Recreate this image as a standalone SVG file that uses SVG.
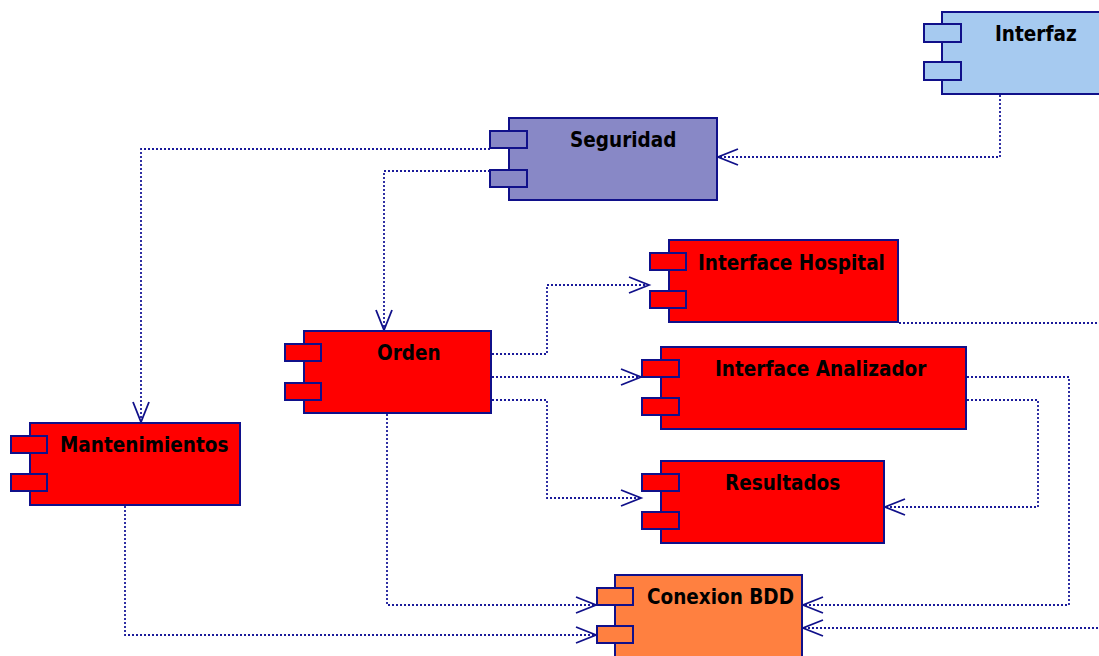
<svg xmlns="http://www.w3.org/2000/svg" width="1099" height="656" viewBox="0 0 1099 656">
  <defs>
    <style>
      .body { stroke: #10108a; stroke-width: 2; }
      .port { stroke: #10108a; stroke-width: 2; }
      .lbl { font-family: "DejaVu Sans Condensed", "DejaVu Sans", Verdana, sans-serif; font-stretch: condensed; font-weight: bold; font-size: 20.5px; fill: #000; }
      .dep { fill: none; stroke: #1a1a9a; stroke-width: 1.8; stroke-dasharray: 2 2; }
      .blue { fill: #a6caf0; }
      .violet { fill: #8888c6; }
      .red { fill: #ff0000; }
      .orange { fill: #ff8040; }
    </style>
    <marker id="open" markerUnits="userSpaceOnUse" markerWidth="24" markerHeight="20" refX="21" refY="9" orient="auto">
      <path d="M1,1 L21,9 L1,17" fill="none" stroke="#10108a" stroke-width="1.8"/>
    </marker>
  </defs>

  <!-- dependencies -->
  <g id="connectors">
    <path class="dep" d="M1000,95 V157 H718" marker-end="url(#open)"/>
    <path class="dep" d="M490,149 H141 V422" marker-end="url(#open)"/>
    <path class="dep" d="M490,171 H384 V330" marker-end="url(#open)"/>
    <path class="dep" d="M492,354 H547 V285 H649" marker-end="url(#open)"/>
    <path class="dep" d="M492,377 H641" marker-end="url(#open)"/>
    <path class="dep" d="M492,400 H547 V498 H641" marker-end="url(#open)"/>
    <path class="dep" d="M387,414 V605 H596" marker-end="url(#open)"/>
    <path class="dep" d="M125,506 V635 H596" marker-end="url(#open)"/>
    <path class="dep" d="M967,377 H1069 V605 H803" marker-end="url(#open)"/>
    <path class="dep" d="M967,400 H1038 V507 H885" marker-end="url(#open)"/>
    <path class="dep" d="M899,323 H1112 V628 H803" marker-end="url(#open)"/>
  </g>

  <g id="interfaz">
    <rect class="body blue" x="942" y="12" width="170" height="82"/>
    <rect class="port blue" x="924" y="24" width="37" height="18"/>
    <rect class="port blue" x="924" y="62" width="37" height="18"/>
    <text class="lbl" x="995" y="41">Interfaz</text>
  </g>

  <g id="seguridad">
    <rect class="body violet" x="509" y="118" width="208" height="82"/>
    <rect class="port violet" x="490" y="131" width="37" height="17"/>
    <rect class="port violet" x="490" y="170" width="37" height="17"/>
    <text class="lbl" x="570" y="147">Seguridad</text>
  </g>

  <g id="orden">
    <rect class="body red" x="304" y="331" width="187" height="82"/>
    <rect class="port red" x="285" y="344" width="36" height="17"/>
    <rect class="port red" x="285" y="383" width="36" height="17"/>
    <text class="lbl" x="377" y="360">Orden</text>
  </g>

  <g id="mantenimientos">
    <rect class="body red" x="30" y="423" width="210" height="82"/>
    <rect class="port red" x="11" y="436" width="36" height="17"/>
    <rect class="port red" x="11" y="474" width="36" height="17"/>
    <text class="lbl" x="60" y="452">Mantenimientos</text>
  </g>

  <g id="interface-hospital">
    <rect class="body red" x="669" y="240" width="229" height="82"/>
    <rect class="port red" x="650" y="253" width="36" height="17"/>
    <rect class="port red" x="650" y="291" width="36" height="17"/>
    <text class="lbl" x="698" y="270">Interface Hospital</text>
  </g>

  <g id="interface-analizador">
    <rect class="body red" x="661" y="347" width="305" height="82"/>
    <rect class="port red" x="642" y="360" width="37" height="17"/>
    <rect class="port red" x="642" y="398" width="37" height="17"/>
    <text class="lbl" x="715" y="376">Interface Analizador</text>
  </g>

  <g id="resultados">
    <rect class="body red" x="661" y="461" width="223" height="82"/>
    <rect class="port red" x="642" y="474" width="37" height="17"/>
    <rect class="port red" x="642" y="512" width="37" height="17"/>
    <text class="lbl" x="725" y="490">Resultados</text>
  </g>

  <g id="conexion-bdd">
    <rect class="body orange" x="615" y="575" width="187" height="90"/>
    <rect class="port orange" x="597" y="588" width="36" height="17"/>
    <rect class="port orange" x="597" y="626" width="36" height="17"/>
    <text class="lbl" x="647" y="604">Conexion BDD</text>
  </g>
</svg>
